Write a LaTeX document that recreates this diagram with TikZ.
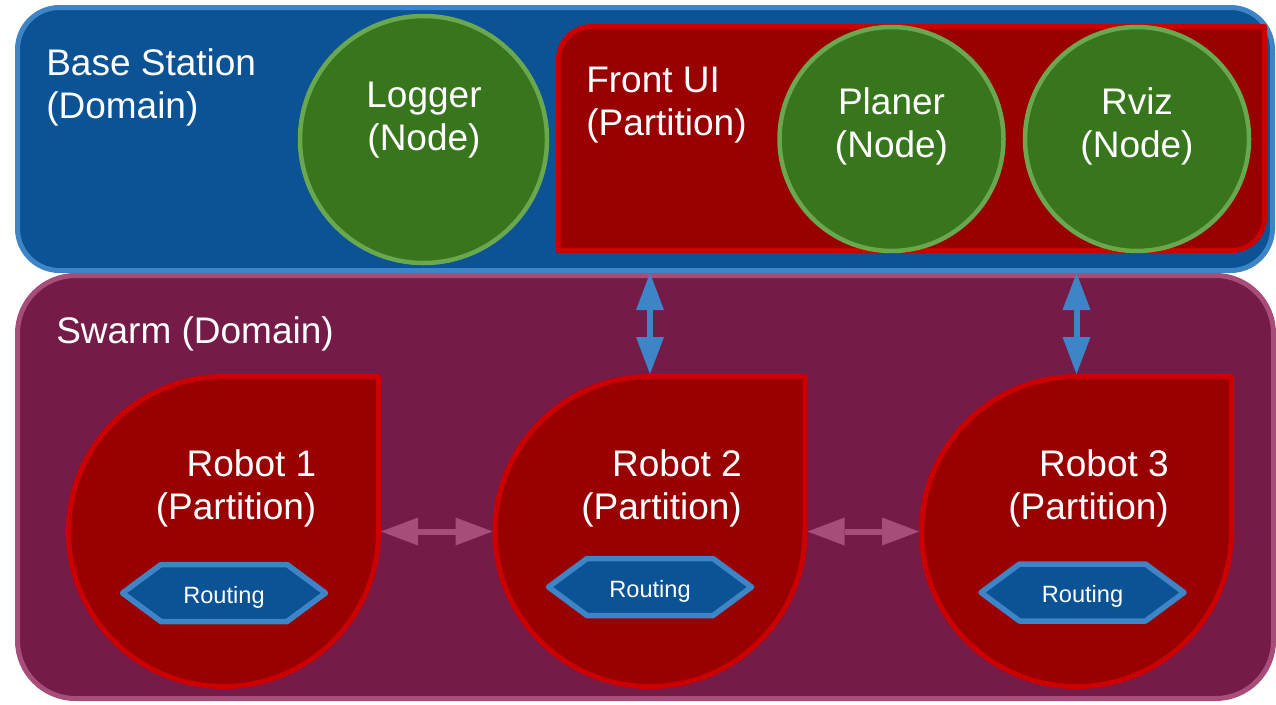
\documentclass[tikz,border=0pt]{standalone}
\usepackage{fontspec}
\setmainfont{Liberation Sans}
\usetikzlibrary{arrows.meta,calc}

\newdimen\px \px=0.75pt

\definecolor{stfill}{HTML}{0B5394}
\definecolor{stline}{HTML}{3D85C6}
\definecolor{swfill}{HTML}{741B47}
\definecolor{swline}{HTML}{A64D79}
\definecolor{ptfill}{HTML}{990000}
\definecolor{ptline}{HTML}{CC0000}
\definecolor{ndfill}{HTML}{38761D}
\definecolor{ndline}{HTML}{6AA84F}

\begin{document}
\begin{tikzpicture}[x=0.75pt, y=-0.75pt,
  domainbox/.style={draw, line width=5\px, inner sep=0pt},
  gnode/.style={circle, draw=ndline, fill=ndfill, line width=4.5\px, inner sep=0pt},
  partbox/.style={draw=ptline, fill=ptfill, line width=5\px, line join=round},
  hexbox/.style={draw=stline, fill=stfill, line width=5.5\px, line join=round},
  anchorcircle/.style={circle, inner sep=0pt, outer sep=2.5\px, minimum size=310\px},
  bigtext/.style={text=white, font=\fontsize{27.75}{32.25}\selectfont, inner sep=0pt},
  smalltext/.style={text=white, font=\fontsize{17.7}{21}\selectfont, inner sep=0pt},
  link/.style={line width=6\px,
    {Triangle[length=27.75pt, width=21pt, line width=0pt]}-{Triangle[length=27.75pt, width=21pt, line width=0pt]}},
  uplink/.style={link, draw=stline},
  sidelink/.style={link, draw=swline}]

\useasboundingbox (0,0) rectangle (1276,704);

% the two domains
\node[domainbox, draw=swline, fill=swfill, rounded corners=58\px,
      minimum width=1256\px, minimum height=423\px] (swarm) at (645.5,487) {};
\node[domainbox, draw=stline, fill=stfill, rounded corners=42\px,
      minimum width=1255\px, minimum height=263\px] (base) at (645,139) {};

% base station contents
\node[gnode, minimum size=247\px] (logger) at (423.5,139.5) {};
\draw[partbox] (558.5,250.5) -- (558.5,59.5) arc[start angle=180, end angle=270, radius=33]
  -- (1264.5,26.5) -- (1264.5,217.5) arc[start angle=0, end angle=90, radius=33] -- cycle;
\node[gnode, minimum size=224\px] (planer) at (891.5,139) {};
\node[gnode, minimum size=224\px] (rviz) at (1137,139) {};

% robot partitions
\node[anchorcircle] (r1) at (223.5,531.5) {};
\node[anchorcircle] (r2) at (650,531.5) {};
\node[anchorcircle] (r3) at (1076.5,531.5) {};
\foreach \r in {r1,r2,r3}
  \draw[partbox] ($(\r)+(155,-155)$) -- ($(\r)+(155,0)$)
    arc[start angle=0, end angle=270, radius=155] -- cycle;

% routing blocks
\coordinate (h1) at (224,593);
\coordinate (h2) at (650,587);
\coordinate (h3) at (1082.5,592.5);
\foreach \h in {h1,h2,h3}
  \draw[hexbox] ($(\h)+(-101.5,0)$) -- ($(\h)+(-63,-28.5)$) -- ($(\h)+(63,-28.5)$)
    -- ($(\h)+(101.5,0)$) -- ($(\h)+(63,28.5)$) -- ($(\h)+(-63,28.5)$) -- cycle;

% links
\draw[uplink] (base.south -| r2.north) -- (r2.north);
\draw[uplink] (base.south -| r3.north) -- (r3.north);
\draw[sidelink] (r1.east) -- (r2.west);
\draw[sidelink] (r2.east) -- (r3.west);

% labels (the base anchor of a two-line label sits on its last line)
\node[bigtext, anchor=base west, align=left] (lbase) at (46,118) {Base Station\\(Domain)};
\node[bigtext, anchor=base west] (lswarm) at (56,343) {Swarm (Domain)};
\node[bigtext, anchor=base, align=center] (llogger) at (424,150) {Logger\\(Node)};
\node[bigtext, anchor=base west, align=left] (lfront) at (586,135) {Front UI\\(Partition)};
\node[bigtext, anchor=base, align=center] (lplaner) at (891.5,157) {Planer\\(Node)};
\node[bigtext, anchor=base, align=center] (lrviz) at (1137,157) {Rviz\\(Node)};
\node[bigtext, anchor=base east, align=right] (lr1) at (316.5,519) {Robot 1\\(Partition)};
\node[bigtext, anchor=base east, align=right] (lr2) at (742,519) {Robot 2\\(Partition)};
\node[bigtext, anchor=base east, align=right] (lr3) at (1169,519) {Robot 3\\(Partition)};
\node[smalltext, anchor=base] (lh1) at (224,603) {Routing};
\node[smalltext, anchor=base] (lh2) at (650,597) {Routing};
\node[smalltext, anchor=base] (lh3) at (1082.5,602) {Routing};
\end{tikzpicture}
\end{document}
